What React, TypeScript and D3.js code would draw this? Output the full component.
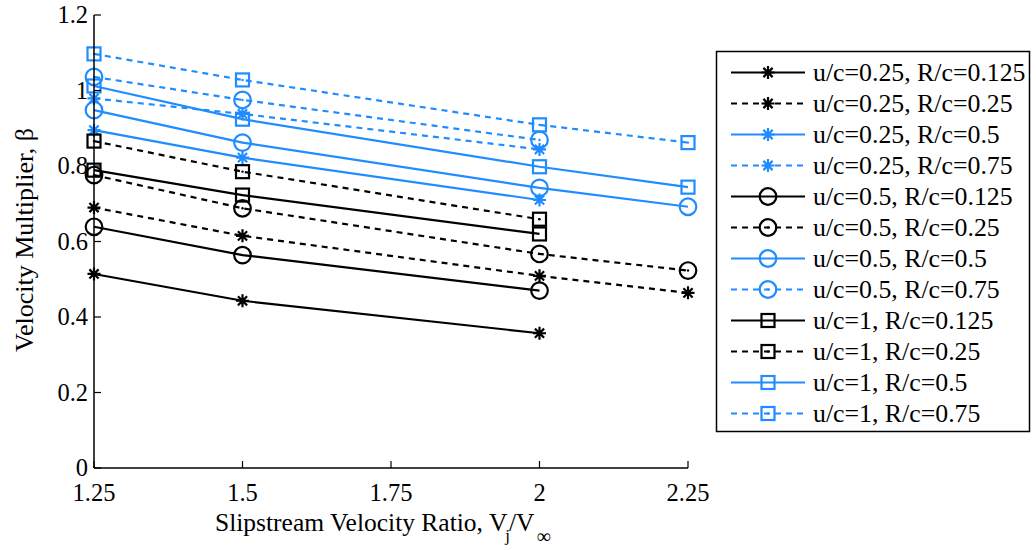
import React from "react";
import * as d3 from "d3";

// Slipstream velocity ratios at which the multiplier was evaluated
const velocityRatios = [1.25, 1.5, 2, 2.25];
const xTicks = [1.25, 1.5, 1.75, 2, 2.25];
const xTickLabels = ["1.25", "1.5", "1.75", "2", "2.25"];
const yTicks = [0, 0.2, 0.4, 0.6, 0.8, 1, 1.2];
const yTickLabels = ["0", "0.2", "0.4", "0.6", "0.8", "1", "1.2"];

// Velocity multiplier β per case (null = not computed)
const u025R0125 = [0.514, 0.443, 0.357, null];
const u025R025 = [0.69, 0.615, 0.509, 0.464];
const u025R05 = [0.895, 0.822, 0.71, null];
const u025R075 = [0.979, 0.938, 0.844, null];
const u05R0125 = [0.639, 0.564, 0.47, null];
const u05R025 = [0.776, 0.688, 0.567, 0.523];
const u05R05 = [0.948, 0.862, 0.742, 0.692];
const u05R075 = [1.036, 0.975, 0.869, null];
const u1R0125 = [0.789, 0.723, 0.62, null];
const u1R025 = [0.866, 0.785, 0.659, null];
const u1R05 = [1.012, 0.924, 0.798, 0.744];
const u1R075 = [1.097, 1.028, 0.909, 0.862];

const seriesLabels = [
  "u/c=0.25, R/c=0.125",
  "u/c=0.25, R/c=0.25",
  "u/c=0.25, R/c=0.5",
  "u/c=0.25, R/c=0.75",
  "u/c=0.5, R/c=0.125",
  "u/c=0.5, R/c=0.25",
  "u/c=0.5, R/c=0.5",
  "u/c=0.5, R/c=0.75",
  "u/c=1, R/c=0.125",
  "u/c=1, R/c=0.25",
  "u/c=1, R/c=0.5",
  "u/c=1, R/c=0.75",
];
const seriesValues = [
  u025R0125, u025R025, u025R05, u025R075,
  u05R0125, u05R025, u05R05, u05R075,
  u1R0125, u1R025, u1R05, u1R075,
];

const BLUE = "#1f8cff";
const BLACK = "#000000";
const FONT = "'Liberation Serif', 'Times New Roman', serif";

type MarkerKind = "star" | "circle" | "square";

function styleFor(i: number) {
  const marker: MarkerKind = i < 4 ? "star" : i < 8 ? "circle" : "square";
  const k = i % 4;
  const color = k < 2 ? BLACK : BLUE;
  const dashed = k % 2 === 1;
  return { marker, color, dashed };
}

function Marker({ kind, x, y, color, dashed }: { kind: MarkerKind; x: number; y: number; color: string; dashed: boolean }) {
  const sw = 2.2;
  const dot = dashed ? <circle cx={x} cy={y} r={1.2} fill={color} /> : null;
  if (kind === "circle") {
    return (
      <g>
        <circle cx={x} cy={y} r={8.3} fill="none" stroke={color} strokeWidth={sw} />
        {dot}
      </g>
    );
  }
  if (kind === "square") {
    return (
      <g>
        <rect x={x - 6.5} y={y - 6.5} width={13} height={13} fill="none" stroke={color} strokeWidth={sw} />
        {dot}
      </g>
    );
  }
  const a = 6.5;
  const d = 4.6;
  return (
    <path
      d={`M${x - a},${y}H${x + a}M${x},${y - a}V${y + a}M${x - d},${y - d}L${x + d},${y + d}M${x - d},${y + d}L${x + d},${y - d}`}
      stroke={color}
      strokeWidth={sw}
      fill="none"
    />
  );
}

export default function App() {
  const width = 1036;
  const height = 550;
  const left = 94;
  const right = 688;
  const top = 15;
  const bottom = 468;

  const x = d3.scaleLinear().domain([1.25, 2.25]).range([left, right]);
  const y = d3.scaleLinear().domain([0, 1.2]).range([bottom, top]);

  const line = d3
    .line<number | null>()
    .defined((v) => v !== null)
    .x((_, i) => x(velocityRatios[i]))
    .y((v) => y(v as number));

  const legendX = 716.5;
  const legendY = 51.5;
  const legendW = 313;
  const legendH = 380;
  const rowY0 = 72.5;
  const rowStep = 31;

  return (
    <svg
      width={width}
      height={height}
      style={{ position: "absolute", left: 0, top: 0, background: "#fff" }}
      fontFamily={FONT}
    >
      <rect x={0} y={0} width={width} height={height} fill="#fff" />

      {/* series lines */}
      {seriesValues.map((vals, i) => {
        const s = styleFor(i);
        return (
          <path
            key={"l" + i}
            d={line(vals) || ""}
            fill="none"
            stroke={s.color}
            strokeWidth={2.2}
            strokeDasharray={s.dashed ? "6,5" : undefined}
          />
        );
      })}

      {/* markers */}
      {seriesValues.map((vals, i) => {
        const s = styleFor(i);
        return (
          <g key={"m" + i}>
            {vals.map((v, j) =>
              v === null ? null : (
                <Marker key={j} kind={s.marker} x={x(velocityRatios[j])} y={y(v)} color={s.color} dashed={s.dashed} />
              )
            )}
          </g>
        );
      })}

      {/* axes */}
      <line x1={left} y1={top} x2={left} y2={bottom} stroke="#000" strokeWidth={1.5} />
      <line x1={left} y1={bottom} x2={right} y2={bottom} stroke="#000" strokeWidth={1.5} />
      {yTicks.map((t, i) => (
        <g key={"yt" + i}>
          <line x1={left} y1={y(t)} x2={left + 7} y2={y(t)} stroke="#000" strokeWidth={1.2} />
          <text x={left - 6} y={y(t) + 8} textAnchor="end" fontSize={24.5}>
            {yTickLabels[i]}
          </text>
        </g>
      ))}
      {xTicks.map((t, i) => (
        <g key={"xt" + i}>
          <line x1={x(t)} y1={bottom} x2={x(t)} y2={bottom - 7} stroke="#000" strokeWidth={1.2} />
          <text x={x(t)} y={501} textAnchor="middle" fontSize={24.5}>
            {xTickLabels[i]}
          </text>
        </g>
      ))}

      {/* axis titles */}
      <text x={215} y={531} fontSize={25.5}>
        Slipstream Velocity Ratio, V
        <tspan fontSize={17} dy={10} dx={-2}>j</tspan>
        <tspan dy={-10} dx={-1}>/V</tspan>
        <tspan fontSize={20} dy={12} dx={2}>∞</tspan>
      </text>
      <text transform="translate(33,240) rotate(-90)" textAnchor="middle" fontSize={26}>
        Velocity Multiplier, β
      </text>

      {/* legend */}
      <rect x={legendX} y={legendY} width={legendW} height={legendH} fill="#fff" stroke="#000" strokeWidth={1.5} />
      {seriesLabels.map((lab, i) => {
        const s = styleFor(i);
        const cy = rowY0 + rowStep * i;
        return (
          <g key={"lg" + i}>
            <line
              x1={731}
              x2={805}
              y1={cy}
              y2={cy}
              stroke={s.color}
              strokeWidth={2.2}
              strokeDasharray={s.dashed ? "6,5" : undefined}
            />
            <Marker kind={s.marker} x={768} y={cy} color={s.color} dashed={s.dashed} />
            <text x={813} y={cy + 8.5} fontSize={25.8}>
              {lab}
            </text>
          </g>
        );
      })}
    </svg>
  );
}
